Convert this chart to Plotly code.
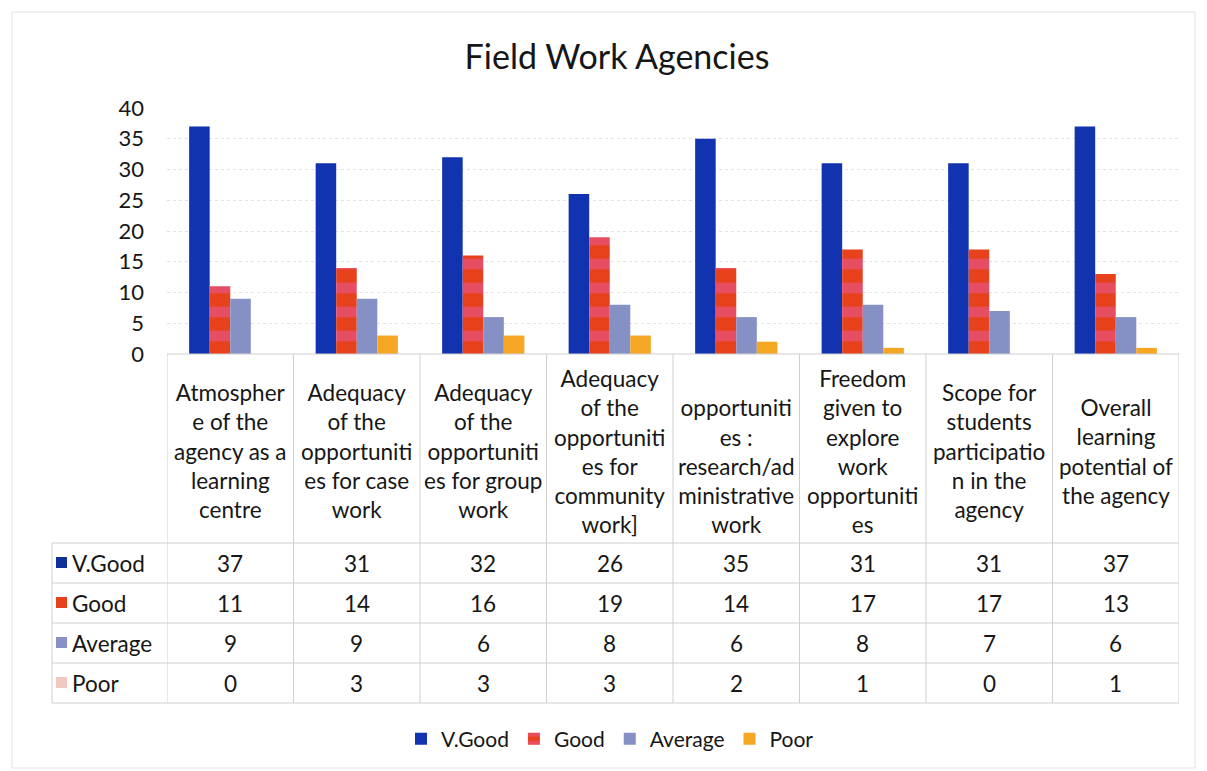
import plotly.graph_objects as go

# ---------------- data ----------------
categories = [
    "Atmospher<br>e of the<br>agency as a<br>learning<br>centre",
    "Adequacy<br>of the<br>opportuniti<br>es for case<br>work",
    "Adequacy<br>of the<br>opportuniti<br>es for group<br>work",
    "Adequacy<br>of the<br>opportuniti<br>es for<br>community<br>work]",
    "&nbsp;<br>opportuniti<br>es :<br>research/ad<br>ministrative<br>work",
    "Freedom<br>given to<br>explore<br>work<br>opportuniti<br>es",
    "Scope for<br>students<br>participatio<br>n in the<br>agency",
    "Overall<br>learning<br>potential of<br>the agency",
]
series_names = ["V.Good", "Good", "Average", "Poor"]
v_good = [37, 31, 32, 26, 35, 31, 31, 37]
good = [11, 14, 16, 19, 14, 17, 17, 13]
average = [9, 9, 6, 8, 6, 8, 7, 6]
poor = [0, 3, 3, 3, 2, 1, 0, 1]
y_ticks = [0, 5, 10, 15, 20, 25, 30, 35, 40]
title_text = "Field Work Agencies"

series_values = [v_good, good, average, poor]

# ---------------- styling ----------------
W, H = 1207, 771
OFF = 8  # page body offset
FONT = "Lato"
TXT = "#161616"
LINE = "#cfcfcf"

def py(p):
    return 1 - (p - OFF) / H

def px(p):
    return (p - OFF) / W

bar_colors = ["#1233b0", "#e8421c", "#8590c4", "#f5a623"]
key_colors = ["#12309a", "#e8421c", "#8a8fc8", "#f2c9c0"]

x_idx = list(range(len(categories)))

fig = go.Figure()
for i, (name, vals) in enumerate(zip(series_names, series_values)):
    marker = dict(color=bar_colors[i], line=dict(width=0))
    if name == "Good":
        marker["pattern"] = dict(shape="-", fgcolor="#e65aa8", bgcolor="#e8421c",
                                 size=24, solidity=0.45, fillmode="overlay")
    fig.add_trace(go.Bar(x=x_idx, y=vals, name=name, marker=marker))

plot_top, plot_bot = 108, 354
plot_left, plot_right = 167, 1179

fig.update_layout(
    width=W, height=H,
    margin=dict(l=0, r=0, t=0, b=0, autoexpand=False),
    paper_bgcolor="white", plot_bgcolor="white",
    barmode="group", bargap=0.35, bargroupgap=0,
    font=dict(family=FONT, color=TXT, size=20),
    title=dict(text=title_text, x=px(617), xanchor="center", y=py(57), yanchor="middle",
               font=dict(family=FONT, size=34, color=TXT), automargin=False),
    xaxis=dict(domain=[px(plot_left), px(plot_right)], range=[-0.5, len(categories) - 0.5],
               showticklabels=False, showgrid=False, zeroline=False, showline=False, ticks="",
               automargin=False),
    yaxis=dict(domain=[py(plot_bot), py(plot_top)], range=[0, 40], tickvals=y_ticks,
               showgrid=True, gridcolor="#e3e3e3", griddash="dot", gridwidth=1,
               zeroline=False, showline=False, ticks="", ticklabelstandoff=22,
               automargin=False,
               tickfont=dict(family=FONT, size=22, color=TXT)),
    legend=dict(orientation="h", x=px(610), xanchor="center", y=py(739), yanchor="middle",
                font=dict(family=FONT, size=21, color=TXT), traceorder="normal",
                itemwidth=30, bgcolor="rgba(0,0,0,0)"),
    showlegend=True,
)

shapes = []
# outer chart border
shapes.append(dict(type="rect", xref="paper", yref="paper", x0=px(12), x1=px(1195),
                   y0=py(768), y1=py(12), line=dict(color="#e2e2e2", width=1)))

# table geometry
header_top, header_bot = 354, 543
row_h = 40
row_tops = [header_bot + k * row_h for k in range(len(series_names) + 1)]
table_left = 52

shapes.append(dict(type="line", xref="paper", yref="paper", x0=px(plot_left), x1=px(plot_right),
                   y0=py(header_top), y1=py(header_top), line=dict(color=LINE, width=1)))
for yt in row_tops:
    shapes.append(dict(type="line", xref="paper", yref="paper", x0=px(table_left), x1=px(plot_right),
                       y0=py(yt), y1=py(yt), line=dict(color=LINE, width=1)))
shapes.append(dict(type="line", xref="paper", yref="paper", x0=px(table_left), x1=px(table_left),
                   y0=py(header_bot), y1=py(row_tops[-1]), line=dict(color=LINE, width=1)))
for j in range(len(categories) + 1):
    shapes.append(dict(type="line", xref="x", yref="paper", x0=j - 0.5, x1=j - 0.5,
                       y0=py(header_top), y1=py(row_tops[-1]), line=dict(color=LINE, width=1)))

annotations = []
for j, lab in enumerate(categories):
    annotations.append(dict(x=j, xref="x", y=py((header_top + header_bot) / 2 + 3), yref="paper",
                            text=lab, showarrow=False, xanchor="center", yanchor="middle",
                            align="center", font=dict(family=FONT, size=22.5, color=TXT)))
for i, (name, vals) in enumerate(zip(series_names, series_values)):
    yc = row_tops[i] + row_h / 2
    shapes.append(dict(type="rect", xref="paper", yref="paper", x0=px(56), x1=px(67),
                       y0=py(yc + 5), y1=py(yc - 6), fillcolor=key_colors[i], line=dict(width=0)))
    annotations.append(dict(x=px(70), xref="paper", y=py(yc), yref="paper", text=name,
                            showarrow=False, xanchor="left", yanchor="middle",
                            font=dict(family=FONT, size=22.5, color=TXT)))
    for j, v in enumerate(vals):
        annotations.append(dict(x=j, xref="x", y=py(yc), yref="paper", text=str(v),
                                showarrow=False, xanchor="center", yanchor="middle",
                                font=dict(family=FONT, size=22.5, color=TXT)))

fig.update_layout(shapes=shapes, annotations=annotations)
fig.write_html("out.html")
